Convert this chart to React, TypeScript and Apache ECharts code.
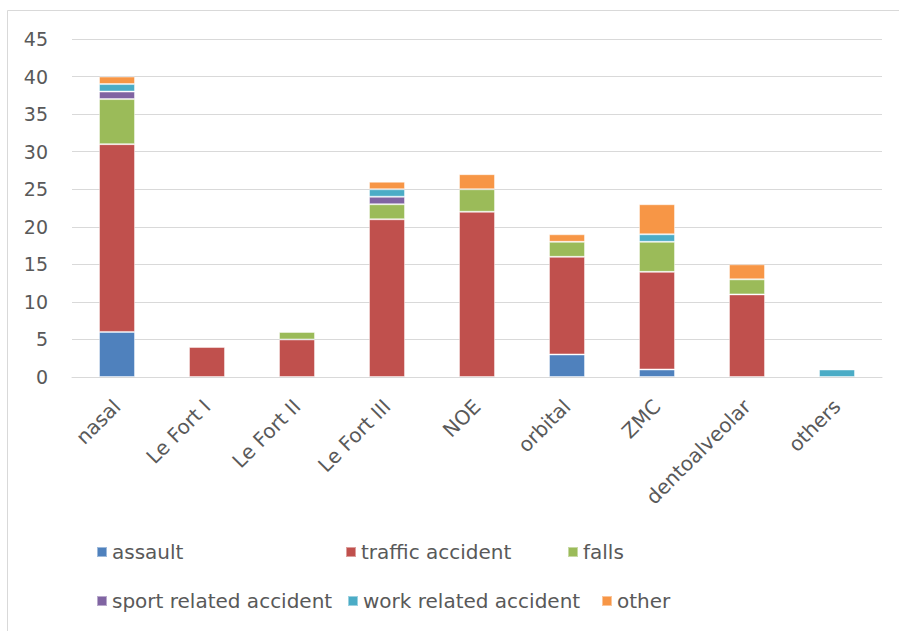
import React, { useEffect, useRef } from "react";
import * as echarts from "echarts";

const categories = ["nasal", "Le Fort I", "Le Fort II", "Le Fort III", "NOE", "orbital", "ZMC", "dentoalveolar", "others"];
const seriesNames = ["assault", "traffic accident", "falls", "sport related accident", "work related accident", "other"];
const assault = [6, 0, 0, 0, 0, 3, 1, 0, 0];
const traffic = [25, 4, 5, 21, 22, 13, 13, 11, 0];
const falls = [6, 0, 1, 2, 3, 2, 4, 2, 0];
const sport = [1, 0, 0, 1, 0, 0, 0, 0, 0];
const work = [1, 0, 0, 1, 0, 0, 1, 0, 1];
const other = [1, 0, 0, 1, 2, 1, 4, 2, 0];
const colors = ["#4f81bd", "#c0504d", "#9bbb59", "#8064a2", "#4bacc6", "#f79646"];
const yTicks = { min: 0, max: 45, interval: 5 };

// legend item positions (left, top) in px
const legendPos: [number, number][] = [
  [91, 537],
  [340, 537],
  [562, 537],
  [91, 586],
  [342, 586],
  [596, 586],
];

export default function App() {
  const ref = useRef<HTMLDivElement>(null);
  useEffect(() => {
    document.body.style.margin = "0";
    if (!ref.current) return;
    const chart = echarts.init(ref.current, null, { renderer: "svg" });
    const values = [assault, traffic, falls, sport, work, other];
    const font = "'DejaVu Sans', 'Noto Sans', sans-serif";
    chart.setOption({
      animation: false,
      backgroundColor: "#ffffff",
      textStyle: { fontFamily: font },
      grid: { left: 72, right: 17, top: 39, bottom: 254 },
      legend: seriesNames.map((n, i) => ({
        data: [n],
        left: legendPos[i][0],
        top: legendPos[i][1],
        icon: "rect",
        itemWidth: 10,
        itemHeight: 10,
        itemGap: 6,
        textStyle: { color: "#595959", fontSize: 20, fontFamily: font },
        selectedMode: false,
      })),
      xAxis: {
        type: "category",
        data: categories,
        axisLine: { lineStyle: { color: "#d9d9d9" } },
        axisTick: { show: false },
        axisLabel: { rotate: 45, color: "#595959", fontSize: 20, margin: 26, interval: 0, fontFamily: font },
      },
      yAxis: {
        type: "value",
        min: yTicks.min,
        max: yTicks.max,
        interval: yTicks.interval,
        axisLine: { show: false },
        axisTick: { show: false },
        axisLabel: { color: "#595959", fontSize: 19, margin: 24, fontFamily: font },
        splitLine: { lineStyle: { color: "#d9d9d9", width: 1 } },
      },
      series: seriesNames.map((n, i) => ({
        name: n,
        type: "bar",
        stack: "total",
        barWidth: 36,
        data: values[i].map((v) => (v === 0 ? null : v)),
        itemStyle: { color: colors[i], borderColor: "rgba(255,255,255,0.45)", borderWidth: 1 },
      })),
      graphic: [
        { type: "line", shape: { x1: 7.5, y1: 10.5, x2: 899, y2: 10.5 }, style: { stroke: "#d9d9d9", lineWidth: 1 } },
        { type: "line", shape: { x1: 7.5, y1: 10.5, x2: 7.5, y2: 631 }, style: { stroke: "#d9d9d9", lineWidth: 1 } },
      ],
    });
    return () => chart.dispose();
  }, []);
  return <div ref={ref} style={{ width: 899, height: 631 }} />;
}
